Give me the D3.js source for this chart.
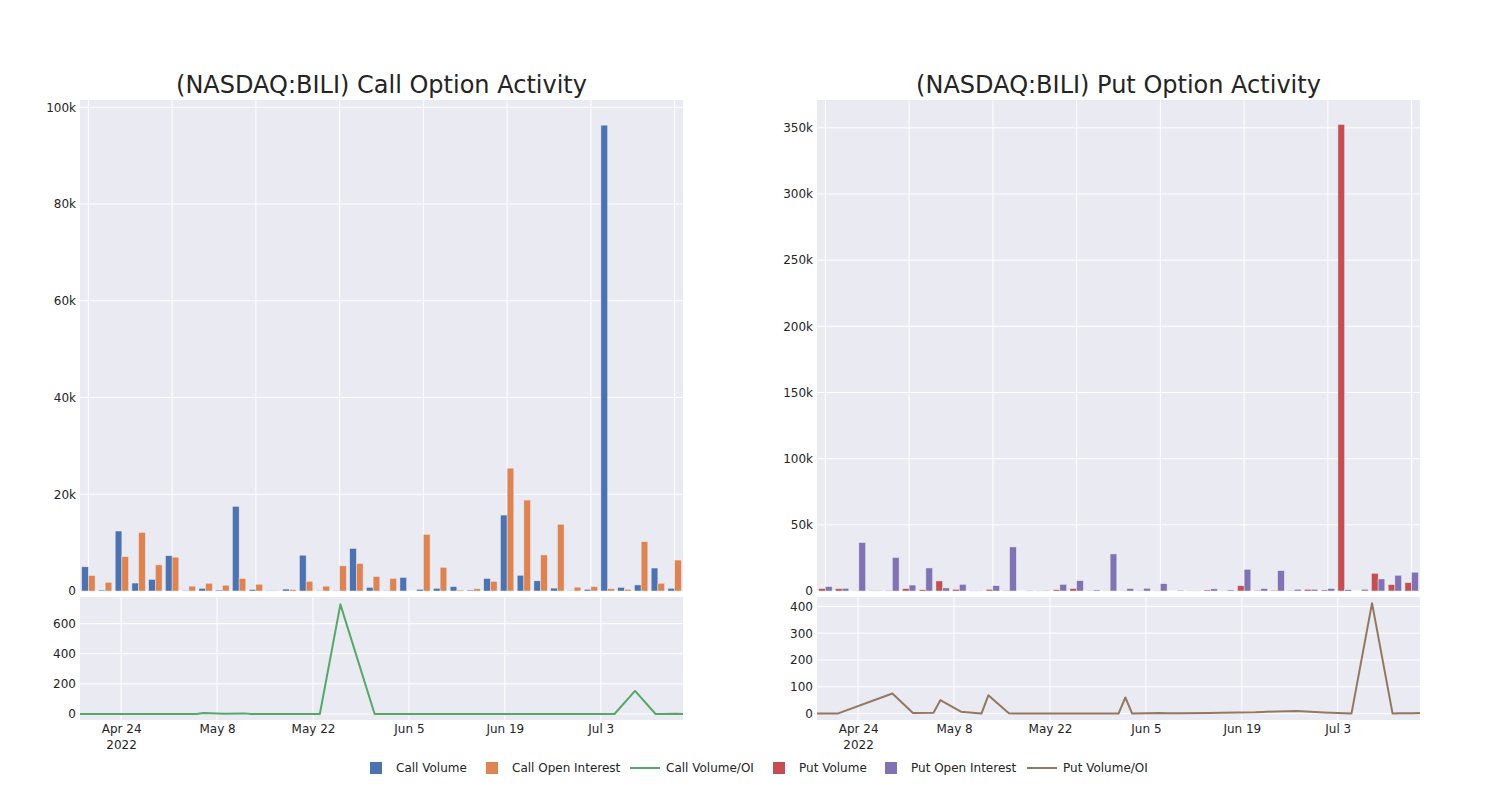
<!DOCTYPE html>
<html>
<head>
<meta charset="utf-8">
<script src="https://cdn.jsdelivr.net/npm/d3@7"></script>
<style>
  body { margin: 0; background: #ffffff; }
  svg { display: block; font-family: "DejaVu Sans", Verdana, sans-serif; }
</style>
</head>
<body>
<svg id="chart" width="1500" height="800"></svg>
<script>
// ---------- DATA ----------
const dates = ["2022-04-18","2022-04-21","2022-04-29","2022-05-02","2022-05-05","2022-05-06",
  "2022-05-09","2022-05-12","2022-05-13","2022-05-16","2022-05-17","2022-05-19",
  "2022-05-20","2022-05-23","2022-05-26","2022-05-31","2022-06-01","2022-06-02",
  "2022-06-03","2022-06-07","2022-06-08","2022-06-10","2022-06-14","2022-06-16",
  "2022-06-21","2022-06-22","2022-06-24","2022-06-27","2022-06-29","2022-07-01",
  "2022-07-05","2022-07-08","2022-07-11","2022-07-12","2022-07-14","2022-07-15"];

const callVolume = [5000,200,12400,1650,2400,7300,150,550,200,17500,300,50,
  400,7400,100,50,8800,750,100,2800,350,550,900,200,
  2600,15700,3250,2100,600,50,350,96300,750,1250,4750,550];
const callOpenInterest = [3200,1800,7100,12100,5400,7000,1000,1600,1200,2600,1400,50,
  300,2000,1000,5200,5700,3000,2600,0,11700,4900,200,450,
  2000,25400,18800,7450,13800,800,900,450,350,10200,1600,6400];
const callVolOI = [0,0,0,0,0,6,2,4,0,0,0,0,
  0,0,728,0,0,0,0,0,0,0,0,0,
  0,0,0,0,0,0,0,153,0,0,1,0];

const putVolume = [1800,1800,100,300,500,1800,1000,7600,1300,200,1300,500,
  0,200,1000,1800,200,200,100,300,200,0,100,800,
  100,4000,600,600,300,1300,800,352500,0,13400,4800,6300];
const putOpenInterest = [3300,2000,36600,300,25300,4500,17400,2300,5000,200,4000,33300,
  500,500,5000,7800,800,28000,1800,2000,5500,600,200,1600,
  800,16400,1800,15400,1300,1300,1800,1000,1300,9100,11900,14200];
const putVolOI = [0,0,75,2,3,50,7,0,68,1,0,0,
  0,0,0,0,0,60,0,2,1,1,2,3,
  5,6,8,10,7,4,0,412,0,1,1,2];

const dateTicks = ["2022-04-24","2022-05-08","2022-05-22","2022-06-05","2022-06-19","2022-07-03"];
const callBarTicks = [0,20000,40000,60000,80000,100000];
const callLineTicks = [0,200,400,600];
const putBarTicks = [0,50000,100000,150000,200000,250000,300000,350000];
const putLineTicks = [0,100,200,300,400];

const titles = ["(NASDAQ:BILI) Call Option Activity", "(NASDAQ:BILI) Put Option Activity"];
const legendItems = [
  {label:"Call Volume", type:"bar", color:"#4c72b0"},
  {label:"Call Open Interest", type:"bar", color:"#dd8452"},
  {label:"Call Volume/OI", type:"line", color:"#55a868"},
  {label:"Put Volume", type:"bar", color:"#c44e52"},
  {label:"Put Open Interest", type:"bar", color:"#8172b3"},
  {label:"Put Volume/OI", type:"line", color:"#937860"}
];

// ---------- DRAW ----------
const svg = d3.select("#chart");
const parse = d3.utcParse("%Y-%m-%d");
const dateObjs = dates.map(parse);
const tickDates = dateTicks.map(parse);
const BG = "#eaeaf2", TXT = "rgb(36,36,36)";
const kfmt = v => v === 0 ? "0" : d3.format("~s")(v);

function panel(cfg) {
  const {x0, x1, title, volume, oi, ratio, cVol, cOI, cLine, barMax, barTicks, lineDom, lineTicks} = cfg;
  const topY0 = 100, topY1 = 591, botY0 = 597, botY1 = 720;
  const g = svg.append("g");

  // title
  g.append("text").attr("x", (x0 + x1) / 2).attr("y", 93)
    .attr("text-anchor", "middle").attr("font-size", 24).attr("fill", TXT).text(title);

  // ---- top bar subplot ----
  const idx = d3.range(dates.length);
  const xLin = d3.scaleLinear().domain([-0.5, dates.length - 0.5]).range([x0, x1]);
  const xBand = d3.scaleBand().domain(idx).range([x0, x1]).paddingInner(0.2).paddingOuter(0.1);
  const xSub = d3.scaleBand().domain(["v", "o"]).range([0, xBand.bandwidth()]);
  const yBar = d3.scaleLinear().domain([0, barMax]).range([topY1, topY0]);

  g.append("rect").attr("x", x0).attr("y", topY0).attr("width", x1 - x0).attr("height", topY1 - topY0).attr("fill", BG);
  g.selectAll(".hg").data(barTicks).join("line")
    .attr("x1", x0).attr("x2", x1).attr("y1", d => yBar(d)).attr("y2", d => yBar(d))
    .attr("stroke", "#fff").attr("stroke-width", 1);
  g.selectAll(".vg").data(idx.filter(i => i % 5 === 0)).join("line")
    .attr("x1", d => xLin(d)).attr("x2", d => xLin(d)).attr("y1", topY0).attr("y2", topY1)
    .attr("stroke", "#fff").attr("stroke-width", 1);

  const bars = [];
  idx.forEach(i => {
    bars.push({i, k: "v", v: volume[i], c: cVol});
    bars.push({i, k: "o", v: oi[i], c: cOI});
  });
  g.selectAll(".bar").data(bars).join("rect")
    .attr("x", d => xBand(d.i) + xSub(d.k))
    .attr("width", xSub.bandwidth())
    .attr("y", d => yBar(d.v))
    .attr("height", d => topY1 - yBar(d.v))
    .attr("fill", d => d.c)
    .attr("stroke", BG).attr("stroke-width", 0.5);

  const yAxT = g.append("g").attr("transform", `translate(${x0},0)`)
    .call(d3.axisLeft(yBar).tickValues(barTicks).tickFormat(kfmt).tickSize(0).tickPadding(4));
  yAxT.select(".domain").remove();
  yAxT.selectAll("text").attr("font-size", 12).attr("fill", TXT).attr("font-family", "DejaVu Sans");

  // ---- bottom line subplot ----
  const xT = d3.scaleUtc().domain(d3.extent(dateObjs)).range([x0, x1]);
  const yL = d3.scaleLinear().domain(lineDom).range([botY1, botY0]);
  g.append("rect").attr("x", x0).attr("y", botY0).attr("width", x1 - x0).attr("height", botY1 - botY0).attr("fill", BG);
  g.selectAll(".hgl").data(lineTicks).join("line")
    .attr("x1", x0).attr("x2", x1).attr("y1", d => yL(d)).attr("y2", d => yL(d))
    .attr("stroke", "#fff").attr("stroke-width", 1);
  g.selectAll(".vgl").data(tickDates).join("line")
    .attr("x1", d => xT(d)).attr("x2", d => xT(d)).attr("y1", botY0).attr("y2", botY1)
    .attr("stroke", "#fff").attr("stroke-width", 1);

  const line = d3.line().x((d, i) => xT(dateObjs[i])).y(d => yL(d));
  g.append("path").datum(ratio).attr("d", line).attr("fill", "none")
    .attr("stroke", cLine).attr("stroke-width", 2).attr("stroke-linejoin", "round");

  const yAxB = g.append("g").attr("transform", `translate(${x0},0)`)
    .call(d3.axisLeft(yL).tickValues(lineTicks).tickSize(0).tickPadding(4));
  yAxB.select(".domain").remove();
  yAxB.selectAll("text").attr("font-size", 12).attr("fill", TXT).attr("font-family", "DejaVu Sans");

  const xAx = g.append("g").attr("transform", `translate(0,${botY1})`)
    .call(d3.axisBottom(xT).tickValues(tickDates).tickFormat(d3.utcFormat("%b %-d")).tickSize(0).tickPadding(4));
  xAx.select(".domain").remove();
  xAx.selectAll("text").attr("font-size", 12).attr("fill", TXT).attr("font-family", "DejaVu Sans");
  xAx.selectAll(".tick").filter((d, i) => i === 0).append("text")
    .attr("y", 20).attr("dy", "0.71em").attr("text-anchor", "middle")
    .attr("font-size", 12).attr("fill", TXT).attr("font-family", "DejaVu Sans")
    .text(d3.utcFormat("%Y"));
}

panel({x0: 80, x1: 683, title: titles[0], volume: callVolume, oi: callOpenInterest, ratio: callVolOI,
  cVol: "#4c72b0", cOI: "#dd8452", cLine: "#55a868", barMax: 101500, barTicks: callBarTicks,
  lineDom: [-40, 777], lineTicks: callLineTicks});
panel({x0: 817, x1: 1420, title: titles[1], volume: putVolume, oi: putOpenInterest, ratio: putVolOI,
  cVol: "#c44e52", cOI: "#8172b3", cLine: "#937860", barMax: 371000, barTicks: putBarTicks,
  lineDom: [-24, 435], lineTicks: putLineTicks});

// ---------- LEGEND ----------
const legendX = [370, 486, 630, 773, 885, 1027];
const lg = svg.append("g").attr("transform", "translate(0,768)");
legendItems.forEach((it, i) => {
  const x = legendX[i];
  const item = lg.append("g").attr("transform", `translate(${x},0)`);
  if (it.type === "bar") {
    item.append("rect").attr("x", 0).attr("y", -6).attr("width", 12).attr("height", 12).attr("fill", it.color);
    item.append("text").attr("x", 26).attr("y", 0).attr("dy", "0.35em")
      .attr("font-size", 12).attr("fill", TXT).text(it.label);
  } else {
    item.append("line").attr("x1", 0).attr("x2", 30).attr("y1", 0).attr("y2", 0)
      .attr("stroke", it.color).attr("stroke-width", 2);
    item.append("text").attr("x", 36).attr("y", 0).attr("dy", "0.35em")
      .attr("font-size", 12).attr("fill", TXT).text(it.label);
  }
});
</script>
</body>
</html>
